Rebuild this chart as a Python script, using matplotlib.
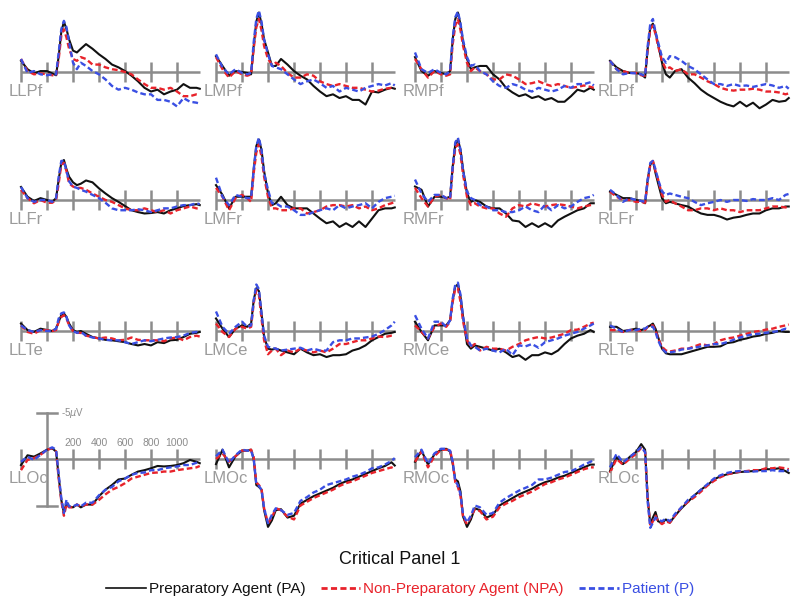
import matplotlib
matplotlib.use("Agg")
import matplotlib.pyplot as plt
from matplotlib.lines import Line2D

plt.rcParams['font.family'] = ['Liberation Sans', 'DejaVu Sans']

# ---------------- data ----------------
times = [-200, -150, -100, -50, 0, 40, 70, 90, 110, 130, 150, 170, 200, 230, 260,
         300, 350, 400, 450, 500, 550, 600, 650, 700, 750, 800, 850, 900, 950,
         1000, 1050, 1100, 1150, 1175]

channels = ["LLPf", "LMPf", "RMPf", "RLPf",
            "LLFr", "LMFr", "RMFr", "RLFr",
            "LLTe", "LMCe", "RMCe", "RLTe",
            "LLOc", "LMOc", "RMOc", "RLOc"]

conditions = ["Preparatory Agent (PA)", "Non-Preparatory Agent (NPA)", "Patient (P)"]
title = "Critical Panel 1"
tick_times = [-200, 0, 200, 400, 600, 800, 1000]
label_times = [200, 400, 600, 800, 1000]
scale_uv = 5
scale_label = r"-5$\mu$V"

# amplitudes in microvolts (negative plotted up)
LLPf_PA = [-1.2,-0.3,0.15,-0.1,-0.1,0.15,0.35,-1.7,-4.3,-5.4,-4.6,-3.5,-2.3,-2.1,-2.5,-3.0,-2.5,-1.9,-1.4,-0.8,-0.5,-0.1,0.4,1.0,1.7,2.1,1.9,2.4,2.1,1.9,1.3,1.7,1.7,1.8]
LLPf_NPA = [-1.4,-0.1,0.25,0.15,0.25,0.35,0.4,-1.4,-3.9,-4.6,-3.7,-2.5,-1.4,-1.2,-1.6,-1.4,-0.8,-0.8,-0.5,-0.3,-0.2,0.0,0.25,0.8,1.3,1.7,1.7,1.9,1.7,2.1,2.6,2.6,2.4,2.4]
LLPf_P = [-1.4,0.1,-0.1,0.25,0.35,0.25,0.25,-2.1,-4.6,-5.5,-4.8,-3.2,-1.0,-0.3,-1.0,-0.65,-0.1,0.25,0.8,1.5,1.9,1.7,1.9,2.2,2.4,2.4,3.0,3.0,3.2,3.7,2.8,3.2,3.3,3.4]

LMPf_PA = [-1.7,-0.65,0.4,-0.1,0.0,0.1,0.25,-2.8,-5.4,-6.4,-5.2,-3.5,-2.1,-0.65,-0.65,-1.4,-0.8,-0.1,0.4,0.8,1.5,2.1,2.6,2.4,2.8,2.6,3.0,3.0,3.5,2.1,2.2,1.9,1.7,1.8]
LMPf_NPA = [-1.6,-0.3,0.6,-0.1,0.25,0.4,0.25,-2.5,-4.8,-5.7,-4.5,-2.8,-1.4,-0.8,-1.0,-0.65,0.1,0.6,0.6,0.25,0.4,1.0,1.3,1.5,1.3,1.5,1.7,1.7,1.9,2.1,2.0,1.8,1.7,1.7]
LMPf_P = [-1.9,-0.5,0.25,-0.3,0.1,0.25,0.1,-3.2,-5.7,-6.6,-5.4,-3.5,-1.9,-0.65,-0.5,-0.3,0.25,0.8,1.3,1.0,0.8,1.2,1.7,1.5,2.1,1.7,1.9,2.1,1.7,1.5,1.3,1.45,1.2,1.45]

RMPf_PA = [-1.6,-0.1,0.4,-0.1,0.1,0.25,-0.1,-3.5,-5.7,-6.4,-5.1,-3.2,-1.4,-0.3,-0.5,-0.65,-0.65,0.25,0.8,1.7,2.2,2.6,2.4,2.8,2.6,3.0,2.8,3.2,3.2,2.6,1.9,2.1,1.7,1.9]
RMPf_NPA = [-1.4,-0.3,0.6,-0.1,0.25,0.4,0.25,-3.0,-5.0,-5.7,-4.5,-2.8,-1.0,-0.1,-0.5,-0.1,0.25,0.8,0.8,0.25,0.4,0.8,1.3,1.2,1.0,1.3,1.5,1.3,1.5,1.7,1.6,1.45,1.6,1.7]
RMPf_P = [-2.1,-0.3,0.1,-0.3,0.1,0.25,-0.1,-3.7,-5.9,-6.5,-5.2,-3.4,-1.6,-0.65,-0.8,-0.1,0.25,1.0,1.5,1.7,1.3,1.5,1.9,2.1,1.7,1.9,2.1,1.9,1.5,1.7,1.3,1.3,1.1,1.45]

RLPf_PA = [-1.2,-0.5,-0.1,0.1,0.1,0.25,0.6,-2.5,-4.8,-5.2,-4.3,-3.0,-1.0,0.25,0.6,-0.1,-0.3,0.6,1.2,1.9,2.4,2.8,3.2,3.5,3.7,3.2,3.7,3.3,3.9,3.5,3.0,3.2,3.1,2.8]
RLPf_NPA = [-1.2,-0.3,-0.1,0.1,0.1,0.35,0.4,-2.5,-4.6,-5.0,-4.1,-2.8,-1.2,-0.3,-0.5,-0.1,-0.3,0.25,0.25,0.6,1.0,1.3,1.7,1.9,2.0,1.9,1.9,1.8,1.9,2.1,2.1,2.2,2.4,2.3]
RLPf_P = [-1.2,-0.3,0.25,0.1,0.15,0.25,0.4,-2.8,-5.2,-5.7,-4.3,-3.2,-1.6,-1.0,-1.7,-1.6,-1.2,-0.65,-0.3,0.25,0.8,1.3,1.3,1.5,1.3,1.5,1.45,1.6,1.45,1.3,1.45,1.7,1.5,1.8]

LLFr_PA = [-1.4,-0.35,0.1,-0.2,0.0,0.2,-0.2,-2.2,-4.0,-4.3,-3.3,-2.5,-1.9,-1.6,-1.75,-2.1,-1.9,-1.25,-0.7,-0.2,0.2,0.65,1.1,1.3,1.45,1.4,1.3,1.45,1.1,0.9,0.65,0.55,0.45,0.55]
LLFr_NPA = [-1.1,-0.2,0.35,0.0,0.3,0.3,0.0,-1.8,-3.8,-4.0,-3.1,-1.8,-1.45,-1.3,-1.3,-1.1,-0.7,-0.35,0.0,0.2,0.55,0.9,1.1,1.1,0.9,1.1,1.3,1.1,1.45,1.1,0.9,0.7,0.9,0.9]
LLFr_P = [-1.4,-0.2,0.2,0.0,0.0,0.2,-0.2,-2.5,-4.2,-4.2,-3.1,-2.0,-1.45,-1.3,-1.1,-0.9,-0.55,-0.2,0.3,0.9,1.1,1.1,1.1,1.0,1.1,1.3,1.1,0.9,0.9,0.7,0.55,0.55,0.35,0.45]

LMFr_PA = [-1.6,-0.55,0.9,-0.35,-0.35,-0.35,-0.35,-3.3,-5.8,-6.5,-5.4,-3.1,-0.7,0.55,0.35,-0.35,0.55,0.9,0.9,0.9,1.45,2.0,2.5,2.3,2.9,2.5,2.9,2.3,2.9,2.0,1.1,0.9,0.9,0.8]
LMFr_NPA = [-1.3,-0.35,1.1,-0.2,-0.55,-0.2,0.2,-2.9,-5.1,-6.0,-4.7,-2.5,-0.35,0.9,0.9,1.1,1.1,0.9,0.9,1.45,1.3,1.1,0.7,0.55,0.55,0.7,0.55,0.9,0.7,1.1,0.9,0.55,0.35,0.2]
LMFr_P = [-2.4,-0.35,0.55,-0.55,-0.35,-0.2,-0.2,-3.3,-5.8,-6.7,-5.4,-2.9,-1.1,0.35,0.35,0.7,0.7,1.1,1.6,1.6,1.3,1.1,0.9,1.1,0.55,0.9,0.7,0.55,0.35,0.9,0.2,-0.2,-0.35,-0.45]

RMFr_PA = [-1.45,-1.1,0.7,-0.35,-0.35,-0.2,-0.35,-3.6,-6.0,-6.5,-5.4,-3.3,-0.7,0.2,0.0,0.2,0.7,0.9,0.9,1.45,2.2,2.3,2.9,2.5,2.9,2.5,2.9,2.2,1.8,1.45,1.1,0.9,0.35,0.35]
RMFr_NPA = [-1.3,-0.2,0.7,-0.35,-0.55,-0.2,0.0,-3.3,-5.6,-6.0,-4.9,-2.7,-0.35,0.55,0.35,0.7,0.9,0.9,1.45,1.8,0.9,0.55,0.7,0.35,0.55,0.7,0.55,0.45,0.55,0.7,0.9,0.7,0.55,0.45]
RMFr_P = [-2.2,-0.7,0.2,-0.55,-0.55,-0.2,-0.2,-3.6,-6.2,-6.7,-5.4,-3.1,-0.9,-0.2,0.0,0.55,0.7,1.1,1.1,1.3,1.3,1.1,0.7,1.1,1.3,0.55,1.1,0.55,0.9,0.7,0.2,-0.2,-0.35,-0.55]

RLFr_PA = [-0.9,-0.55,-0.2,-0.2,0.0,0.1,0.35,-2.2,-3.8,-4.2,-2.9,-1.8,-0.2,0.35,0.2,0.35,0.55,0.7,1.1,1.45,1.6,1.6,1.8,2.1,1.9,1.8,1.6,1.45,1.45,1.1,0.9,0.9,0.7,0.7]
RLFr_NPA = [-0.9,-0.35,0.0,0.0,0.2,0.2,0.3,-2.0,-3.8,-4.2,-3.1,-2.2,-0.55,0.2,0.0,0.35,0.7,1.1,1.1,0.9,0.9,1.1,0.9,1.1,1.1,1.3,1.1,1.1,1.1,0.9,0.7,0.7,0.8,0.7]
RLFr_P = [-1.1,-0.55,0.2,-0.2,0.0,0.1,0.2,-2.2,-4.0,-4.2,-3.3,-2.2,-0.9,-0.55,-0.7,-0.55,-0.35,-0.2,0.2,0.55,0.35,0.2,0.0,0.2,0.0,0.0,0.1,-0.1,0.0,0.0,-0.2,0.0,-0.55,-0.65]

LLTe_PA = [-0.8,-0.1,0.1,-0.25,-0.1,0.0,-0.25,-1.0,-1.7,-1.9,-1.5,-0.8,-0.1,0.1,0.0,0.3,0.65,0.8,0.95,1.0,1.1,1.2,1.4,1.55,1.4,1.55,1.2,1.3,1.0,0.95,0.65,0.3,0.2,0.1]
LLTe_NPA = [-0.6,0.1,0.3,-0.1,-0.1,0.0,-0.1,-1.0,-1.5,-1.7,-1.35,-0.6,0.0,0.2,0.2,0.5,0.65,0.8,0.7,0.8,1.0,0.95,0.7,0.95,1.0,1.0,1.0,1.1,0.8,0.7,1.0,0.65,0.5,0.6]
LLTe_P = [-0.6,-0.1,0.1,-0.1,0.0,0.0,-0.25,-1.35,-1.9,-2.0,-1.5,-0.6,0.0,0.2,0.1,0.5,0.7,0.8,0.95,1.0,1.0,1.2,1.4,1.2,1.0,1.1,0.95,0.8,0.7,0.65,0.5,0.2,0.1,0.3]

LMCe_PA = [-1.35,-0.25,0.65,-0.25,-0.6,-0.45,-0.8,-3.3,-4.6,-4.3,-1.9,0.65,1.9,2.0,1.9,2.1,2.3,2.5,1.9,2.3,2.6,2.5,2.8,2.6,2.6,2.5,2.1,1.9,1.55,1.0,0.65,0.3,0.2,0.1]
LMCe_NPA = [-0.8,0.1,0.65,-0.25,-0.45,-0.25,-0.45,-3.0,-4.4,-3.9,-1.35,1.0,2.5,2.1,1.9,2.6,2.1,2.3,1.9,2.1,2.3,2.1,2.3,1.9,1.4,1.4,1.2,1.0,1.0,0.8,0.6,0.65,0.5,0.5]
LMCe_P = [-2.1,-0.45,0.3,-0.45,-1.0,-0.45,-0.6,-3.3,-5.0,-4.5,-1.9,0.5,1.7,1.8,1.9,2.1,2.0,1.9,1.8,2.1,1.9,2.1,2.1,1.2,1.0,1.0,0.8,0.8,0.7,0.6,0.3,-0.1,-0.6,-1.0]

RMCe_PA = [-1.0,0.1,1.0,-0.6,-0.6,-0.6,-1.15,-3.3,-4.8,-5.0,-3.7,-1.5,1.4,1.9,1.55,1.7,1.9,2.1,1.9,2.3,2.8,2.6,3.1,2.6,2.6,2.3,2.5,2.1,1.4,0.8,0.5,0.3,-0.1,0.1]
RMCe_NPA = [-0.6,0.1,0.8,-0.45,-0.8,-0.45,-1.0,-3.15,-4.6,-4.6,-3.15,-1.0,1.0,1.7,1.4,2.1,1.7,1.9,1.9,2.1,1.7,1.4,1.0,0.8,0.65,0.8,0.7,0.5,0.3,-0.1,-0.15,-0.45,-0.8,-0.9]
RMCe_P = [-1.7,-0.25,0.8,-1.0,-1.0,-0.45,-1.15,-3.5,-5.0,-5.2,-3.9,-1.5,0.8,1.55,1.7,2.1,1.9,2.1,2.3,1.9,2.6,1.55,1.65,1.4,1.8,1.2,1.0,0.8,0.5,0.3,0.1,-0.25,-0.6,-0.8]

RLTe_PA = [-0.45,-0.45,0.0,-0.1,-0.25,-0.1,-0.25,-0.45,-0.6,-0.8,-0.25,0.65,1.9,2.4,2.5,2.5,2.5,2.3,2.1,1.9,1.7,1.7,1.65,1.3,1.2,0.95,0.8,0.6,0.5,0.3,0.2,0.0,0.1,0.1]
RLTe_NPA = [-0.1,-0.1,0.1,-0.1,-0.1,0.0,-0.1,-0.45,-0.6,-0.6,-0.1,0.8,1.7,2.1,2.2,2.1,1.9,1.9,1.65,1.4,1.55,1.4,1.0,0.8,0.7,0.5,0.3,0.1,0.0,-0.15,-0.25,-0.45,-0.6,-0.7]
RLTe_P = [-0.6,-0.25,0.1,-0.1,-0.1,-0.25,-0.25,-0.45,-0.45,-0.45,0.1,1.0,1.9,2.3,2.3,2.2,2.0,1.9,1.8,1.65,1.55,1.4,1.4,1.2,0.95,0.7,0.5,0.35,0.3,0.2,0.1,0.0,-0.25,-0.15]

LLOc_PA = [0.65,-0.4,-0.25,-0.6,-1.0,-1.15,-0.8,1.9,4.4,5.8,4.7,5.1,5.2,4.9,5.2,4.9,4.9,4.0,3.3,2.8,2.2,2.1,1.7,1.35,1.2,1.0,0.75,0.8,0.75,0.65,0.45,0.1,0.3,0.45]
LLOc_NPA = [1.2,0.1,-0.1,-0.45,-1.0,-1.15,-0.8,2.1,4.5,6.1,4.9,5.2,5.2,4.9,5.1,4.9,4.9,4.4,3.8,3.3,3.0,2.6,2.1,1.9,1.7,1.5,1.45,1.35,1.35,1.2,1.1,1.0,0.9,0.75]
LLOc_P = [0.3,-0.25,0.1,-0.45,-1.0,-1.25,-1.0,1.7,4.2,5.8,4.4,5.1,5.1,4.9,5.1,4.7,4.7,3.9,3.3,3.0,2.4,2.1,1.7,1.5,1.45,1.2,1.2,1.0,0.9,0.8,0.65,0.65,0.4,0.3]

LMOc_PA = [0.55,-1.0,0.9,-0.3,-0.9,-0.9,-1.0,0.0,2.8,3.0,3.3,5.5,7.3,6.6,5.5,5.4,6.3,6.1,4.8,4.4,4.0,3.7,3.4,3.1,2.7,2.4,2.2,1.9,1.6,1.3,1.0,0.75,0.35,0.7]
LMOc_NPA = [0.0,-0.6,0.3,-0.3,-0.9,-0.9,-1.0,-0.2,2.5,2.8,3.2,5.3,6.9,6.3,5.3,5.5,6.2,6.5,5.0,4.6,4.2,3.9,3.6,3.3,2.9,2.6,2.4,2.1,1.8,1.5,1.3,1.1,0.9,1.1]
LMOc_P = [-0.3,-1.0,0.4,-0.4,-1.0,-0.9,-0.9,0.0,2.7,2.9,3.3,5.3,6.9,6.0,5.3,5.5,6.0,5.8,4.5,4.1,3.6,3.3,2.8,2.6,2.4,2.2,1.9,1.7,1.4,1.0,0.9,0.6,0.2,-0.1]

RMOc_PA = [0.3,-0.9,0.6,-0.5,-1.0,-1.1,-0.8,0.5,2.2,2.4,3.5,6.2,7.3,6.5,5.3,5.5,6.3,6.0,5.0,4.6,4.2,3.8,3.5,3.2,2.8,2.5,2.3,2.0,1.8,1.5,1.2,0.9,0.6,0.6]
RMOc_NPA = [0.3,-0.8,0.9,-0.3,-1.0,-1.0,-0.9,0.3,2.5,3.0,4.0,6.3,7.0,6.2,5.4,5.6,6.5,6.2,5.2,4.8,4.5,4.1,3.8,3.5,3.1,2.7,2.5,2.2,2.0,1.7,1.4,1.1,0.9,0.9]
RMOc_P = [-0.2,-1.0,0.5,-0.6,-1.1,-1.1,-0.9,0.3,2.4,2.8,3.8,6.0,6.8,6.1,5.0,5.2,6.0,5.8,4.7,4.2,3.8,3.4,3.1,2.8,2.2,2.2,2.0,1.7,1.4,1.3,1.0,0.6,0.3,0.1]

RLOc_PA = [1.3,-0.2,0.55,-0.2,-0.75,-1.6,-1.0,4.3,7.0,6.3,5.7,6.7,6.85,6.5,6.85,6.1,5.3,4.6,3.9,3.3,2.8,2.2,1.85,1.65,1.5,1.4,1.35,1.3,1.2,1.1,1.1,1.0,1.3,1.5]
RLOc_NPA = [1.5,0.0,0.6,0.0,-0.55,-1.2,-0.75,4.3,7.2,6.7,6.1,6.7,7.0,6.7,6.85,6.1,5.2,4.6,4.1,3.5,2.85,2.35,1.95,1.65,1.5,1.35,1.3,1.2,1.2,1.0,1.0,0.9,1.0,1.1]
RLOc_P = [0.9,-0.55,0.35,-0.2,-0.75,-1.3,-0.75,4.6,7.4,6.85,6.3,6.5,6.7,6.4,6.7,5.9,5.2,4.4,3.9,3.3,2.7,2.1,1.75,1.5,1.35,1.3,1.35,1.35,1.3,1.3,1.2,1.3,1.3,1.2]

series = {
    "LLPf": (LLPf_PA, LLPf_NPA, LLPf_P), "LMPf": (LMPf_PA, LMPf_NPA, LMPf_P),
    "RMPf": (RMPf_PA, RMPf_NPA, RMPf_P), "RLPf": (RLPf_PA, RLPf_NPA, RLPf_P),
    "LLFr": (LLFr_PA, LLFr_NPA, LLFr_P), "LMFr": (LMFr_PA, LMFr_NPA, LMFr_P),
    "RMFr": (RMFr_PA, RMFr_NPA, RMFr_P), "RLFr": (RLFr_PA, RLFr_NPA, RLFr_P),
    "LLTe": (LLTe_PA, LLTe_NPA, LLTe_P), "LMCe": (LMCe_PA, LMCe_NPA, LMCe_P),
    "RMCe": (RMCe_PA, RMCe_NPA, RMCe_P), "RLTe": (RLTe_PA, RLTe_NPA, RLTe_P),
    "LLOc": (LLOc_PA, LLOc_NPA, LLOc_P), "LMOc": (LMOc_PA, LMOc_NPA, LMOc_P),
    "RMOc": (RMOc_PA, RMOc_NPA, RMOc_P), "RLOc": (RLOc_PA, RLOc_NPA, RLOc_P),
}

# ---------------- style / layout ----------------
W, H = 800, 606
colors = ["#111111", "#e8232b", "#3a4fe3"]
styles = [dict(linestyle="-", linewidth=1.5),
          dict(linestyle=(0, (2.4, 1.3)), linewidth=1.7),
          dict(linestyle=(0, (2.4, 1.3)), linewidth=1.7)]
gray = "#8c8c8c"
label_gray = "#9b9b9b"

col_x0 = [21, 216, 415, 610]     # pixel of t=-200
row_y0 = [72, 200, 331, 459]     # pixel of baseline
px_per_ms = 0.13
px_per_uv = 9.3
t_end = 1177
padL, padR, padV = 20, 190, 70

fig = plt.figure(figsize=(W / 100, H / 100), dpi=100)

for i, ch in enumerate(channels):
    r, c = divmod(i, 4)
    x0, yb = col_x0[c], row_y0[r]
    ax = fig.add_axes([(x0 - padL) / W, (H - (yb + padV)) / H,
                       (padL + padR) / W, 2 * padV / H])
    t0 = tick_times[0]
    ax.set_xlim(t0 - padL / px_per_ms, t0 + padR / px_per_ms)
    ax.set_ylim(padV / px_per_uv, -padV / px_per_uv)
    ax.axis("off")
    ax.patch.set_alpha(0)

    th = 10 / px_per_uv
    ax.plot([t0, t_end], [0, 0], color=gray, lw=1.8, solid_capstyle="butt", zorder=1)
    for tt in tick_times:
        if ch == "LLOc" and tt == 0:
            continue
        ax.plot([tt, tt], [-th, th], color=gray, lw=1.8, solid_capstyle="butt", zorder=1)

    if ch == "LLOc":
        cap = 10 / px_per_ms
        ax.plot([0, 0], [-scale_uv, scale_uv], color=gray, lw=1.8, zorder=1)
        for yy in (-scale_uv, scale_uv):
            ax.plot([-cap, cap], [yy, yy], color=gray, lw=1.8, zorder=1)
        ax.text(14 / px_per_ms, -scale_uv, scale_label, fontsize=7,
                color=gray, ha="left", va="center")
        for tt in label_times:
            ax.text(tt, -16 / px_per_uv, str(tt), fontsize=7.5, color=gray,
                    ha="center", va="center")

    for vals, col, st in zip(series[ch], colors, styles):
        ax.plot(times, vals, color=col, clip_on=False, zorder=3,
                solid_joinstyle="round", **st)

    ax.text(t0 - 12 / px_per_ms, 12 / px_per_uv, ch, fontsize=12, color=label_gray,
            ha="left", va="top")

fig.text(0.5, 1 - 559 / H, title, fontsize=13, ha="center", va="center", color="#111111")

handles = [Line2D([], [], color=colors[0], lw=1.2),
           Line2D([], [], color=colors[1], lw=2.0, linestyle=(0, (2.2, 1.2))),
           Line2D([], [], color=colors[2], lw=2.0, linestyle=(0, (2.2, 1.2)))]
fig.legend(handles, conditions, loc="center", bbox_to_anchor=(0.5, 1 - 589 / H),
           ncol=3, frameon=False, fontsize=11, handlelength=2.6, handletextpad=0.2,
           columnspacing=1.0, labelcolor=colors)

fig.savefig("out.png", dpi=100)
